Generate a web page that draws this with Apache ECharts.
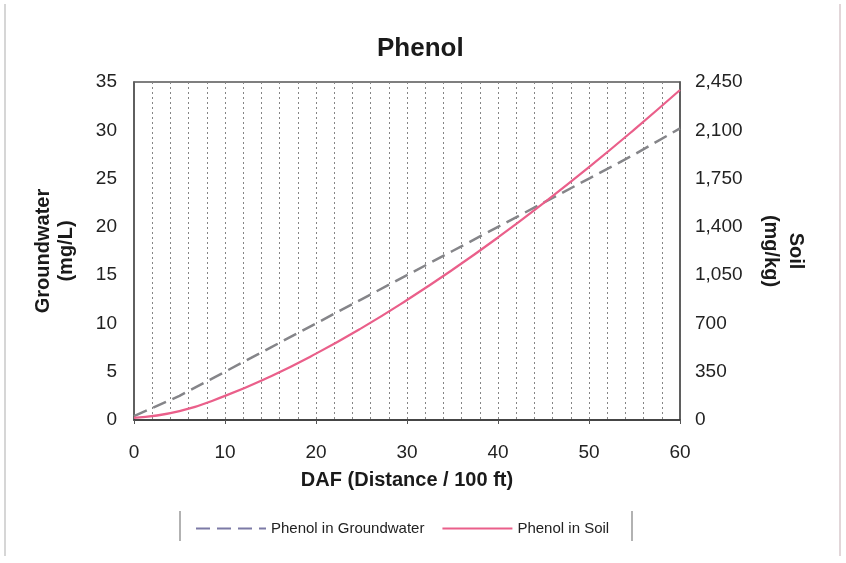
<!DOCTYPE html>
<html>
<head>
<meta charset="utf-8">
<script src="https://cdn.jsdelivr.net/npm/echarts@6/dist/echarts.min.js"></script>
<style>
html,body{margin:0;padding:0;background:#fff;}
#chart{width:846px;height:563px;}
</style>
</head>
<body>
<div id="chart"></div>
<script>
// DAF (distance / 100 ft)
const daf = [0, 5, 10, 15, 20, 25, 30, 35, 40, 45, 50, 55, 60];
// Phenol in Groundwater (mg/L), left axis
const groundwater = [0.4, 2.5, 5.0, 7.5, 10.0, 12.5, 15.0, 17.5, 20.0, 22.5, 25.0, 27.5, 30.2];
// Phenol in Soil (mg/kg), right axis
const soil = [15, 64, 175, 316, 481, 666, 870, 1089, 1323, 1572, 1833, 2107, 2392];

const seriesNames = ['Phenol in Groundwater', 'Phenol in Soil'];
const titleText = 'Phenol';
const xName = 'DAF (Distance / 100 ft)';
const leftName = 'Groundwater\n(mg/L)';
const rightName = 'Soil\n(mg/kg)';

const chart = echarts.init(document.getElementById('chart'), null, {renderer: 'canvas'});
const font = 'Liberation Sans, Arial, sans-serif';

const option = {
  animation: false,
  backgroundColor: '#fff',
  title: {
    text: titleText,
    left: 372, top: 31,
    textStyle: {fontFamily: font, fontSize: 26, fontWeight: 'bold', color: '#1a1a1a'}
  },
  grid: {
    left: 134, right: 166, top: 82, bottom: 143,
    show: true, borderColor: '#555', borderWidth: 1.5, backgroundColor: 'transparent'
  },
  legend: {
    left: 190, top: 516,
    itemWidth: 70, itemHeight: 14, itemGap: 17,
    itemStyle: {opacity: 0},
    textStyle: {fontFamily: font, fontSize: 15, color: '#222'},
    data: [
      {name: seriesNames[0], lineStyle: {color: '#7c7aa6'}},
      {name: seriesNames[1]}
    ]
  },
  xAxis: {
    type: 'value', min: 0, max: 60, interval: 10,
    name: xName, nameLocation: 'middle', nameGap: 50,
    nameTextStyle: {fontFamily: font, fontSize: 20, fontWeight: 'bold', color: '#1a1a1a'},
    axisLine: {show: true, lineStyle: {color: '#333', width: 1.5}},
    axisTick: {show: true, length: 4, lineStyle: {color: '#555'}},
    minorTick: {show: false, splitNumber: 5},
    axisLabel: {fontFamily: font, fontSize: 19, color: '#222', margin: 23},
    splitLine: {show: true, lineStyle: {color: '#858585', type: [2, 3], width: 1}},
    minorSplitLine: {show: true, lineStyle: {color: '#858585', type: [2, 3], width: 1}}
  },
  yAxis: [
    {
      type: 'value', min: 0, max: 35, interval: 5,
      name: leftName, nameLocation: 'middle', nameGap: 56, nameRotate: 90,
      nameTextStyle: {fontFamily: font, fontSize: 20, fontWeight: 'bold', color: '#1a1a1a', lineHeight: 23},
      axisLine: {show: true, lineStyle: {color: '#555', width: 1.5}},
      axisTick: {show: false},
      axisLabel: {fontFamily: font, fontSize: 19, color: '#222', margin: 17},
      splitLine: {show: false}
    },
    {
      type: 'value', min: 0, max: 2450, interval: 350,
      name: rightName, nameLocation: 'middle', nameGap: 78, nameRotate: -90,
      nameTextStyle: {fontFamily: font, fontSize: 20, fontWeight: 'bold', color: '#1a1a1a', lineHeight: 25},
      axisLine: {show: true, lineStyle: {color: '#555', width: 1.5}},
      axisTick: {show: false},
      axisLabel: {fontFamily: font, fontSize: 19, color: '#222', margin: 15,
        formatter: v => v.toLocaleString('en-US')},
      splitLine: {show: false}
    }
  ],
  series: [
    {
      name: seriesNames[0], type: 'line', yAxisIndex: 0,
      data: daf.map((d, i) => [d, groundwater[i]]),
      symbol: 'none', smooth: false,
      lineStyle: {color: '#858589', width: 2.5, type: [14, 7]},
      itemStyle: {color: '#858589'}
    },
    {
      name: seriesNames[1], type: 'line', yAxisIndex: 1,
      data: daf.map((d, i) => [d, soil[i]]),
      symbol: 'none', smooth: true,
      lineStyle: {color: '#ea5f8a', width: 2.2},
      itemStyle: {color: '#ea5f8a'}
    }
  ],
  graphic: [
    {type: 'line', shape: {x1: 5, y1: 4, x2: 5, y2: 556}, style: {stroke: '#c8c8c8', lineWidth: 1.5}},
    {type: 'line', shape: {x1: 840, y1: 4, x2: 840, y2: 556}, style: {stroke: '#d8c8cc', lineWidth: 1.5}},
    {type: 'line', shape: {x1: 180, y1: 511, x2: 180, y2: 541}, style: {stroke: '#999', lineWidth: 1.5}},
    {type: 'line', shape: {x1: 632, y1: 511, x2: 632, y2: 541}, style: {stroke: '#999', lineWidth: 1.5}}
  ]
};
chart.setOption(option);
</script>
</body>
</html>
